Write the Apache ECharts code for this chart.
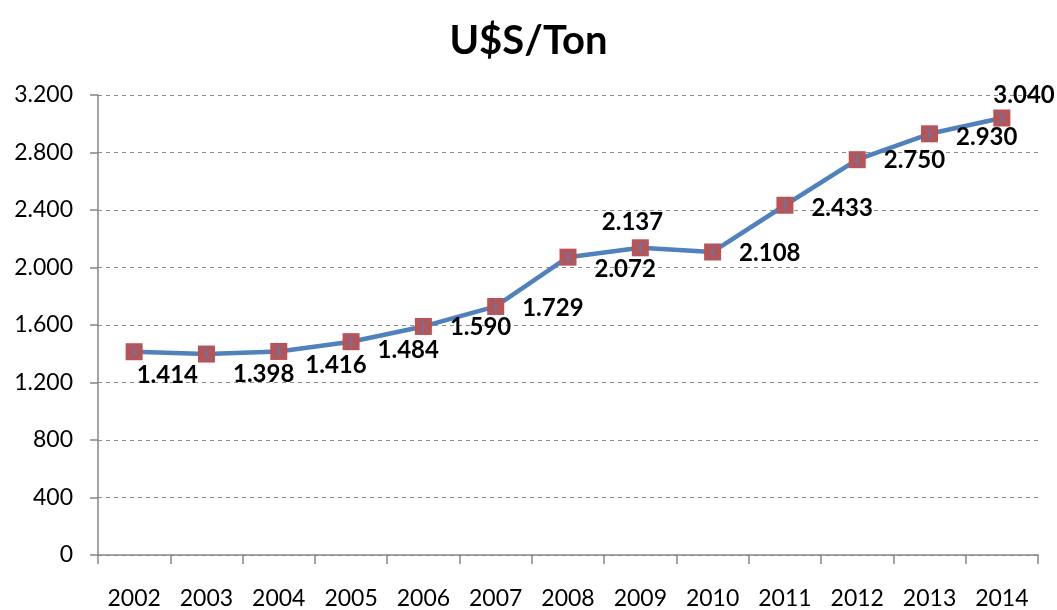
<!DOCTYPE html>
<html>
<head>
<meta charset="utf-8">
<script src="https://cdn.jsdelivr.net/npm/echarts@6/dist/echarts.min.js"></script>
<style>
  html, body { margin: 0; padding: 0; background: #fff; }
  #main { width: 1057px; height: 610px; }
</style>
</head>
<body>
<div id="main"></div>
<script>
var years = ['2002','2003','2004','2005','2006','2007','2008','2009','2010','2011','2012','2013','2014'];
var prices = [1414, 1398, 1416, 1484, 1590, 1729, 2072, 2137, 2108, 2433, 2750, 2930, 3040];

// label nudges (dx, dy) relative to the default right-side placement
var labelNudge = [
  [-24, 24], [0, 20], [0, 14], [0, 9], [0, 1], [0, 2], [0, 12],
  [-65, -26], [0, 1], [0, 3], [0, 1], [0, 3], [-35, -23]
];

window.onload = function(){
  var chart = echarts.init(document.getElementById('main'));

  function fmt(v){
    return String(v).replace(/\B(?=(\d{3})+(?!\d))/g, '.');
  }

  var font = 'Lato, "Open Sans", sans-serif';

  var lineData = prices.map(function(v, i){
    return {
      value: v,
      label: { offset: labelNudge[i] }
    };
  });

  var opt = {
    animation: false,
    title: {
      text: 'U$S/Ton',
      left: 'center',
      top: 16,
      textStyle: { fontFamily: font, fontSize: 40, fontWeight: 'bold', color: '#000' }
    },
    grid: { left: 98, right: 19, top: 95, bottom: 54 },
    xAxis: {
      type: 'category',
      data: years,
      boundaryGap: true,
      axisLine: { lineStyle: { color: '#868686', width: 1.5 } },
      axisTick: { show: true, length: 9, lineStyle: { color: '#868686', width: 1.5 } },
      axisLabel: { color: '#000', fontFamily: font, fontSize: 23, margin: 32 }
    },
    yAxis: {
      type: 'value',
      min: 0,
      max: 3200,
      interval: 400,
      axisLine: { show: true, lineStyle: { color: '#868686', width: 1.5 } },
      axisTick: { show: true, length: 8, lineStyle: { color: '#868686', width: 1.5 } },
      axisLabel: {
        color: '#000', fontFamily: font, fontSize: 23, margin: 25,
        formatter: fmt
      },
      splitLine: { lineStyle: { color: '#8c8c8c', type: [4, 4], width: 1 } }
    },
    series: [{
      name: 'U$S/Ton',
      type: 'line',
      data: lineData,
      symbol: 'rect',
      symbolSize: 17,
      itemStyle: { color: '#C0504D' },
      lineStyle: { color: '#4F81BD', width: 4.5 },
      label: {
        show: true,
        position: 'right',
        distance: 18,
        color: '#000',
        fontFamily: font,
        fontSize: 24,
        fontWeight: 'bold',
        formatter: function(p){ return fmt(p.value); }
      },
      z: 2
    }, {
      name: 'cross',
      type: 'line',
      data: prices,
      symbol: 'path://M0,0L10,10M10,0L0,10M5,0L5,10',
      symbolSize: 15,
      itemStyle: { color: 'none', borderColor: '#4F81BD', borderWidth: 1 },
      lineStyle: { width: 0 },
      silent: true,
      z: 3
    }]
  };

  chart.setOption(opt);
};
</script>
</body>
</html>
